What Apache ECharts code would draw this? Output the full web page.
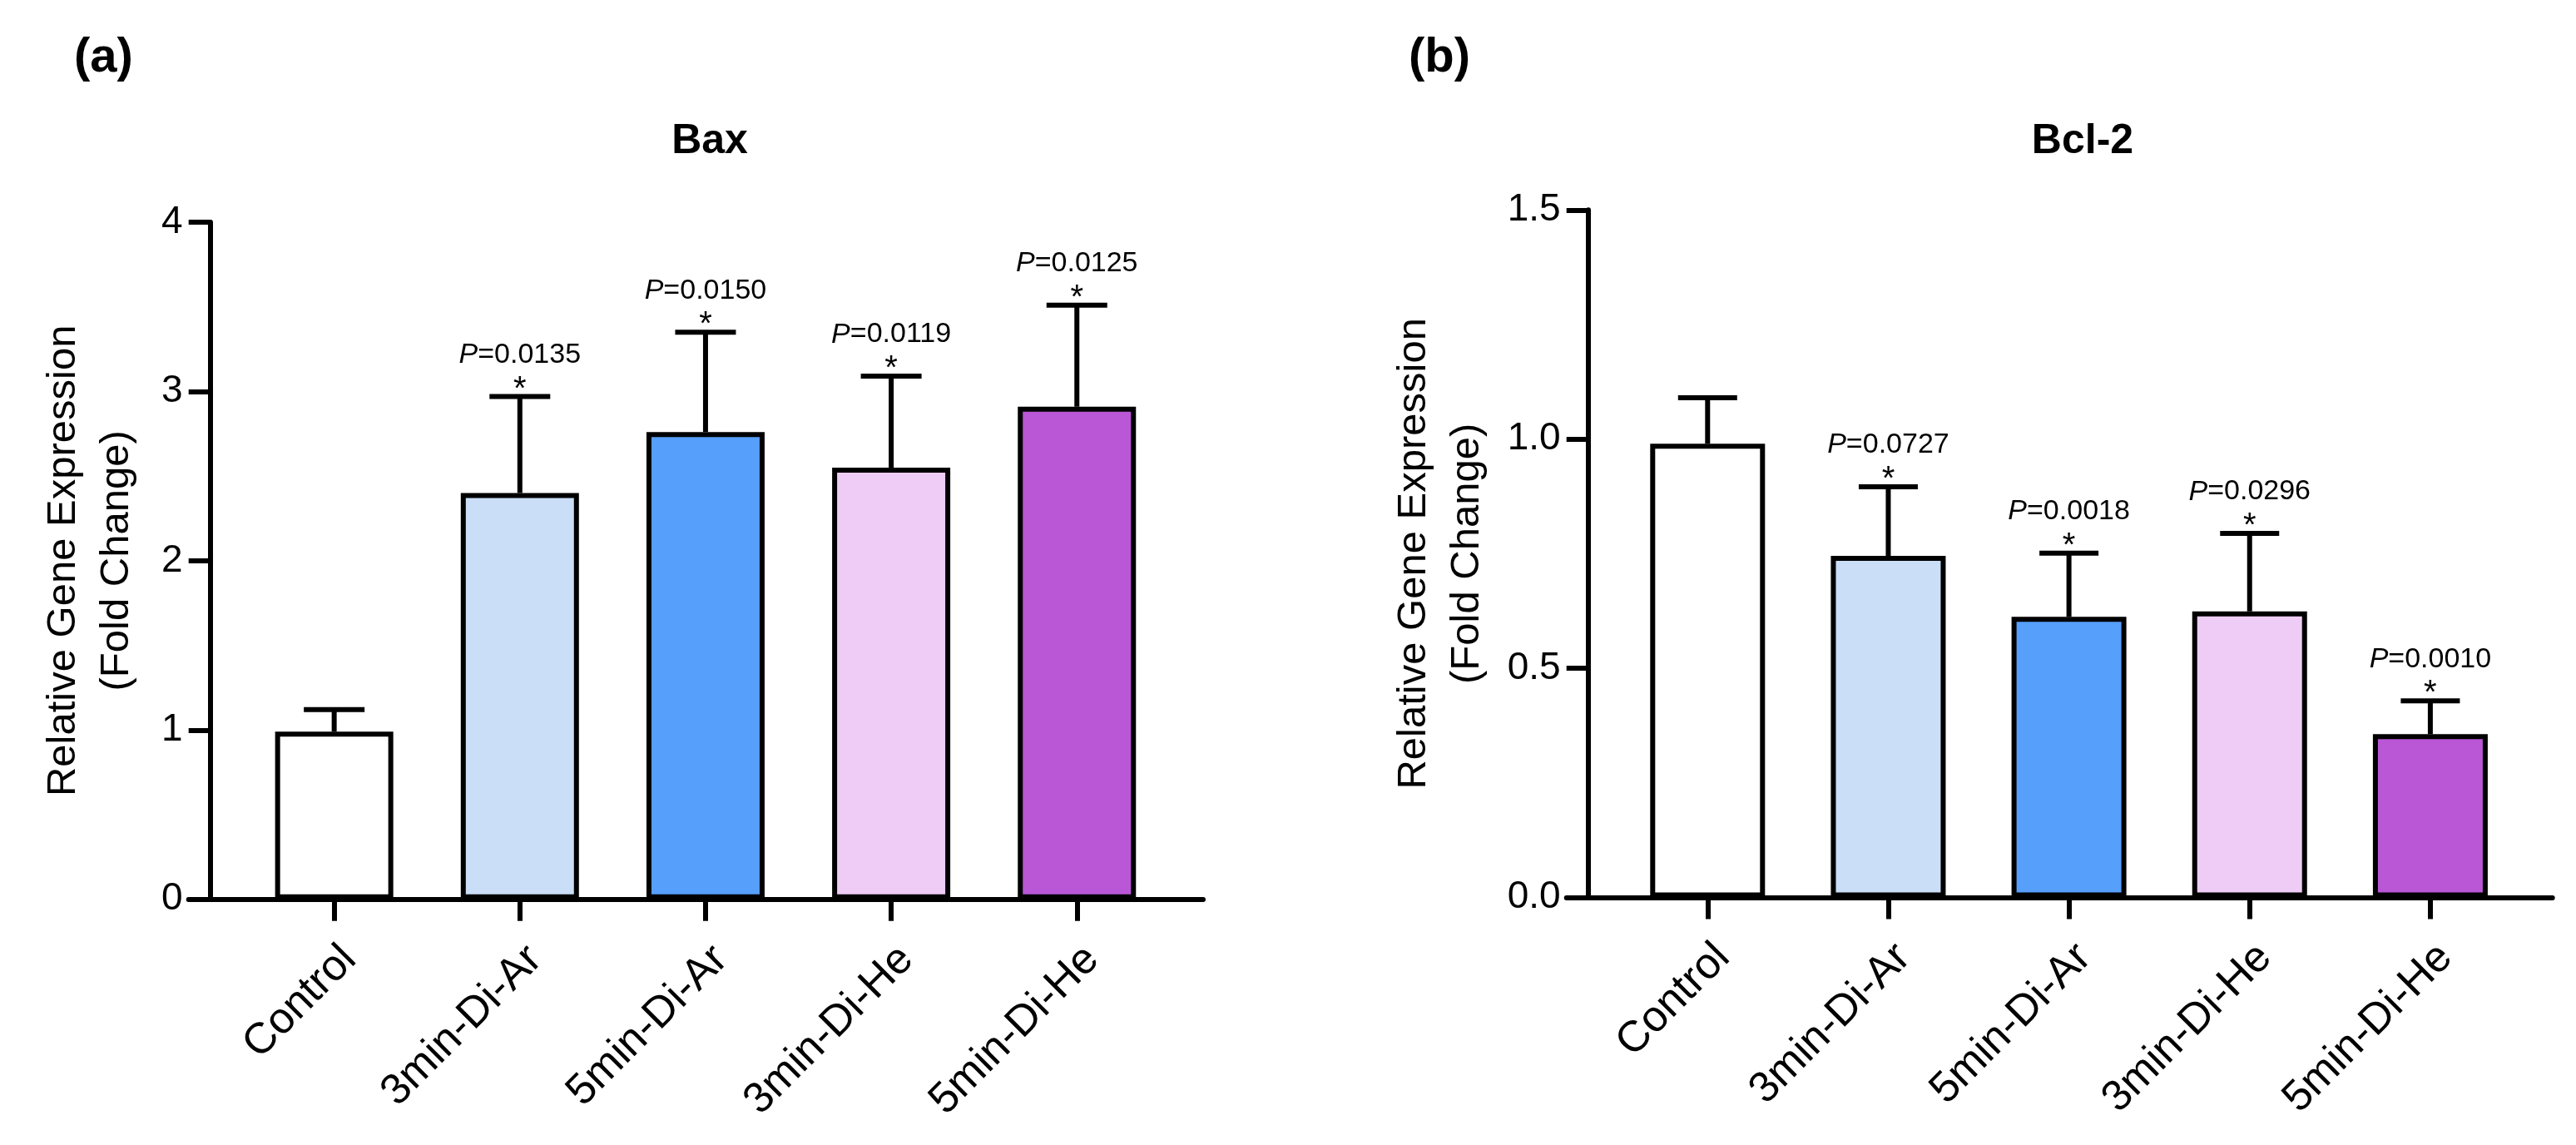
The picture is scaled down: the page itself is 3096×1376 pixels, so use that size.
<!DOCTYPE html>
<html>
<head>
<meta charset="utf-8">
<script src="https://cdn.jsdelivr.net/npm/echarts@6/dist/echarts.min.js"></script>
<style>
html,body{margin:0;padding:0;background:#fff;}
#chart{width:3096px;height:1376px;}
</style>
</head>
<body>
<div id="chart"></div>
<script>
// ---- data ----
const categories = ['Control', '3min-Di-Ar', '5min-Di-Ar', '3min-Di-He', '5min-Di-He'];
const barColors = ['#FFFFFF', '#CADEF7', '#569FFB', '#EFCCF6', '#B957D7'];

const baxMean = [0.99, 2.40, 2.76, 2.55, 2.91];
const baxSD   = [0.13, 0.57, 0.59, 0.54, 0.60];
const baxP    = ['', '0.0135', '0.0150', '0.0119', '0.0125'];

const bclMean = [0.99, 0.745, 0.612, 0.624, 0.356];
const bclSD   = [0.10, 0.151, 0.139, 0.170, 0.073];
const bclP    = ['', '0.0727', '0.0018', '0.0296', '0.0010'];

const baxYTicks = [0, 1, 2, 3, 4];
const bclYTicks = [0.0, 0.5, 1.0, 1.5];

const panelTitles = ['Bax', 'Bcl-2'];
const panelLetters = ['(a)', '(b)'];
const yName = 'Relative Gene Expression\n(Fold Change)';

// ---- chart ----
const FONT = '"Liberation Sans", Arial, Helvetica, sans-serif';
const chart = echarts.init(document.getElementById('chart'), null, {renderer: 'canvas'});

function barData(means) {
  return means.map((v, i) => ({value: [i, v], itemStyle: {color: barColors[i]}}));
}
function errData(means, sds) {
  return means.map((v, i) => [i, v, sds[i]]);
}
function errRender(pLabels, capHalf) {
  return function (params, api) {
    const i = params.dataIndex;
    const x = api.value(0), m = api.value(1), sd = api.value(2);
    const p0 = api.coord([x, m]);
    const p1 = api.coord([x, m + sd]);
    const children = [
      {type: 'line', shape: {x1: p0[0], y1: p0[1], x2: p1[0], y2: p1[1]}, style: {stroke: '#000', lineWidth: 6}},
      {type: 'line', shape: {x1: p1[0] - capHalf, y1: p1[1], x2: p1[0] + capHalf, y2: p1[1]}, style: {stroke: '#000', lineWidth: 6}}
    ];
    if (pLabels[i]) {
      children.push({type: 'text', x: p1[0], y: p1[1] - 8,
        style: {text: '*', fontSize: 40, fontFamily: FONT, fill: '#000', align: 'center', verticalAlign: 'middle'}});
      children.push({type: 'text', x: p1[0], y: p1[1] - 50,
        style: {text: '{i|P}{n|=' + pLabels[i] + '}', fill: '#000', align: 'center', verticalAlign: 'middle',
          fontSize: 34, fontFamily: FONT,
          rich: {
            i: {fontSize: 34, fontFamily: FONT, fontStyle: 'italic', fill: '#000'},
            n: {fontSize: 34, fontFamily: FONT, fill: '#000'}
          }}});
    }
    return {type: 'group', children: children};
  };
}

function xAxisCfg(gridIndex, min, max) {
  return {
    type: 'value', gridIndex: gridIndex, min: min, max: max,
    splitLine: {show: false},
    axisLine: {show: true, onZero: false, lineStyle: {color: '#000', width: 6}},
    axisTick: {show: true, length: 26, lineStyle: {color: '#000', width: 6},
      customValues: categories.map((c, i) => i)},
    axisLabel: {show: true, customValues: categories.map((c, i) => i),
      formatter: v => categories[Math.round(v)] || '',
      rotate: 45, align: 'right', verticalAlign: 'top', margin: 46,
      fontSize: 52, fontFamily: FONT, color: '#000'}
  };
}
function yAxisCfg(gridIndex, ticks, decimals, nameGap) {
  return {
    type: 'value', gridIndex: gridIndex,
    min: ticks[0], max: ticks[ticks.length - 1], interval: ticks[1] - ticks[0],
    offset: -26,
    splitLine: {show: false},
    axisLine: {show: true, onZero: false, lineStyle: {color: '#000', width: 6}},
    axisTick: {show: true, length: 26, lineStyle: {color: '#000', width: 6}},
    axisLabel: {margin: 33, fontSize: 46, fontFamily: FONT, color: '#000',
      formatter: v => Number(v).toFixed(decimals)},
    name: yName, nameLocation: 'middle', nameRotate: 90, nameGap: nameGap,
    nameTextStyle: {fontSize: 49, fontFamily: FONT, color: '#000', lineHeight: 64, align: 'center'}
  };
}

const option = {
  backgroundColor: '#fff',
  animation: false,
  title: [
    {text: panelLetters[0], left: 84, top: 36, textStyle: {fontSize: 58, fontWeight: 'bold', fontFamily: FONT, color: '#000'}},
    {text: panelTitles[0], left: 848, top: 140, textAlign: 'center', textStyle: {fontSize: 50, fontWeight: 'bold', fontFamily: FONT, color: '#000'}},
    {text: panelLetters[1], left: 1688, top: 36, textStyle: {fontSize: 58, fontWeight: 'bold', fontFamily: FONT, color: '#000'}},
    {text: panelTitles[1], left: 2498, top: 140, textAlign: 'center', textStyle: {fontSize: 50, fontWeight: 'bold', fontFamily: FONT, color: '#000'}}
  ],
  grid: [
    {left: 226.7, top: 267, width: 1219.3, height: 813.7, containLabel: false, outerBoundsMode: 'none'},
    {left: 1882.7, top: 252.3, width: 1185, height: 826.1, containLabel: false, outerBoundsMode: 'none'}
  ],
  xAxis: [xAxisCfg(0, -0.784, 4.68), xAxisCfg(1, -0.781, 4.676)],
  yAxis: [yAxisCfg(0, baxYTicks, 0, 80), yAxisCfg(1, bclYTicks, 1, 113)],
  series: [
    {type: 'bar', xAxisIndex: 0, yAxisIndex: 0, barWidth: 142, data: barData(baxMean),
      itemStyle: {borderColor: '#000', borderWidth: 6}, z: 2},
    {type: 'custom', xAxisIndex: 0, yAxisIndex: 0, data: errData(baxMean, baxSD),
      renderItem: errRender(baxP, 36.5), z: 3},
    {type: 'bar', xAxisIndex: 1, yAxisIndex: 1, barWidth: 138, data: barData(bclMean),
      itemStyle: {borderColor: '#000', borderWidth: 6}, z: 2},
    {type: 'custom', xAxisIndex: 1, yAxisIndex: 1, data: errData(bclMean, bclSD),
      renderItem: errRender(bclP, 35.5), z: 3}
  ]
};
chart.setOption(option);
</script>
</body>
</html>
